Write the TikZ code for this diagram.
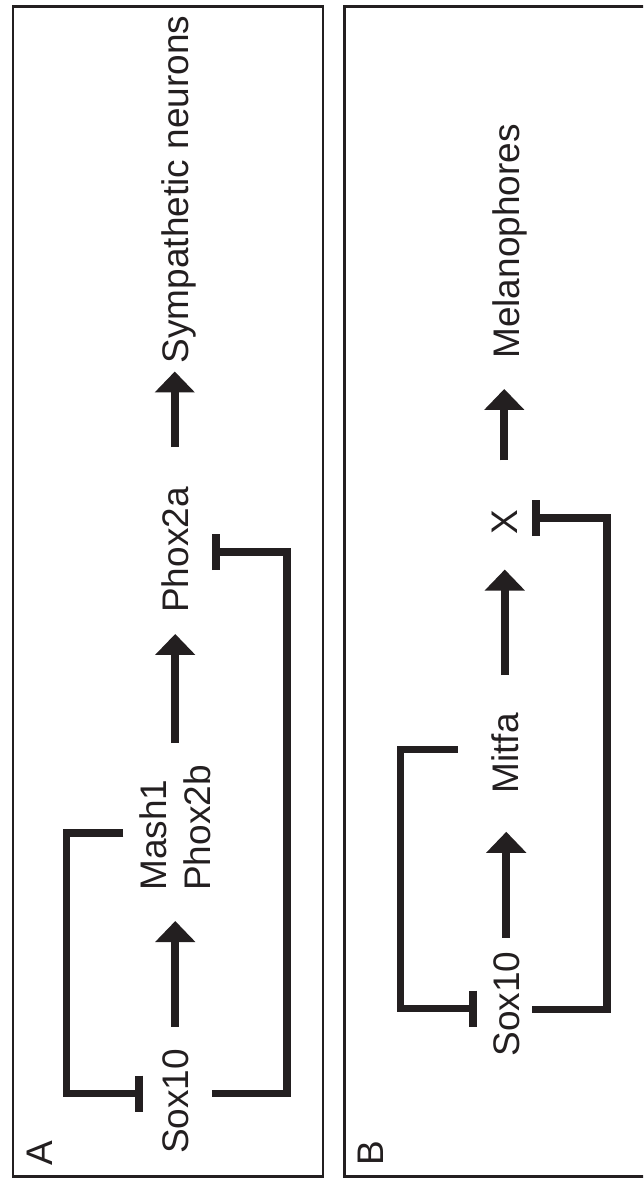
\documentclass[tikz,border=0pt]{standalone}
\usepackage{fontspec}
\setmainfont{Liberation Sans}
\usetikzlibrary{arrows.meta,calc}
\definecolor{ink}{HTML}{231F20}

\begin{document}
\begin{tikzpicture}[x=1pt,y=-1pt,
  lbl/.style={rotate=90, anchor=base, inner sep=0pt,
    font=\fontsize{37}{44}\selectfont, text=ink},
  act/.style={draw=ink, line width=8pt,
    -{Triangle[width=39pt,length=21pt]}},
  inh/.style={draw=ink, line width=7.5pt, line join=miter,
    -{Bar[width=36pt,line width=8pt]}},
  frame/.style={draw=ink, line width=2.3pt}]

\clip (0,0) rectangle (643,1178);

% panel frames
\draw[frame] (13,6.5) rectangle (323,1176.5);
\draw[frame] (344.5,6.5) rectangle (660,1176.5);

% ---- panel A ----
\node[lbl] (labA) at (52,1153) {A};
\node[lbl] (soxA) at (188,1101.5) {Sox10};
\node[lbl, anchor=south west, align=left] (mashA) at (211,891) {Mash1\\Phox2b};
\node[lbl] (phoxA) at (188,550) {Phox2a};
\node[lbl] (sympA) at (188,189.5) {Sympathetic neurons};

\draw[act, shorten <=22pt, shorten >=30pt] (soxA.east) -- (soxA.east |- mashA.west);
\draw[act, shorten <=22pt, shorten >=21pt] (mashA.east) -- (mashA.east |- phoxA.west);
\draw[act, shorten <=40pt, shorten >=8pt] (phoxA.east) -- (phoxA.east |- sympA.west);

\draw[inh] ($(soxA.base)+(24,-8)$) -- ++(75,0) |- ($(phoxA.base)+(24,2)$);
\draw[inh] ($(mashA.north)+(-16,5)$) -- ++(-57,0) |- ($(soxA.north)+(-19,-8)$);

% ---- panel B ----
\node[lbl] (labB) at (383,1153) {B};
\node[lbl] (soxB) at (519,1004) {Sox10};
\node[lbl] (mitfaB) at (518,753.5) {Mitfa};
\node[lbl] (xB) at (517,522) {X};
\node[lbl] (melB) at (519,241.5) {Melanophores};

\draw[act, shorten <=13.5pt, shorten >=38pt] (soxB.east) -- (soxB.east |- mitfaB.west);
\draw[act, shorten <=38pt, shorten >=35pt] (mitfaB.east) -- (mitfaB.east |- xB.west);
\draw[act, shorten <=49pt, shorten >=30pt] (xB.east) -- (xB.east |- melB.west);

\draw[inh] ($(soxB.base)+(13,5.5)$) -- ++(75,0) |- ($(xB.base)+(15,-4)$);
\draw[inh] ($(mitfaB.north)+(-33,-4)$) -- ++(-57.5,0) |- ($(soxB.north)+(-16,4.5)$);
\end{tikzpicture}
\end{document}
